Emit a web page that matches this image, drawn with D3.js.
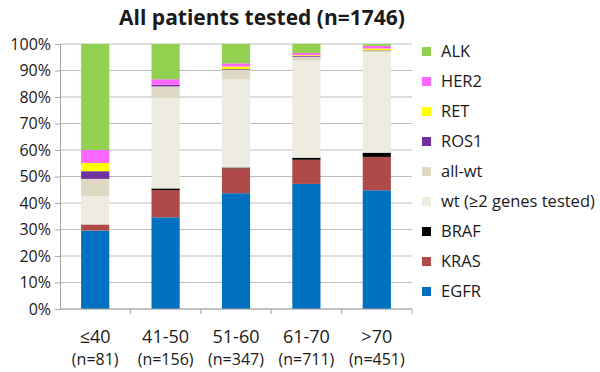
<!DOCTYPE html>
<html>
<head>
<meta charset="utf-8">
<script src="https://cdn.jsdelivr.net/npm/d3@7"></script>
<style>
  body { margin: 0; background: #fff; }
  text { font-family: "Open Sans", sans-serif; fill: #1a1a1a; }
</style>
</head>
<body>
<div id="chart"></div>
<script>
// age groups (x axis)
var groups = ['≤40', '41-50', '51-60', '61-70', '>70'];
var group_n = ['(n=81)', '(n=156)', '(n=347)', '(n=711)', '(n=451)'];

// series, stacked bottom to top
var series = ['EGFR', 'KRAS', 'BRAF', 'wt', 'all-wt', 'ROS1', 'RET', 'HER2', 'ALK'];
var series_labels = ['EGFR', 'KRAS', 'BRAF', 'wt (≥2 genes tested)', 'all-wt', 'ROS1', 'RET', 'HER2', 'ALK'];
var colors = ['#0070C0', '#B04A48', '#000000', '#EEECE1', '#DDD9C4', '#7030A0', '#FFFF00', '#FF66FF', '#92D050'];

// percentages per series, one per age group
var egfr  = [29.6, 34.6, 43.7, 47.2, 44.8];
var kras  = [2.3, 10.3, 9.4, 9.1, 12.6];
var braf  = [0, 0.6, 0.3, 0.8, 1.6];
var wt    = [10.7, 34.0, 33.3, 36.6, 38.0];
var allwt = [6.5, 4.5, 3.5, 1.5, 0.4];
var ros1  = [2.9, 0.6, 0.3, 0.3, 0.2];
var ret   = [3.1, 0, 1.0, 0.3, 0.7];
var her2  = [4.9, 2.1, 1.2, 0.8, 1.0];
var alk   = [40.0, 13.3, 7.3, 3.5, 0.7];

var y_ticks = [0, 10, 20, 30, 40, 50, 60, 70, 80, 90, 100];

var chart_width = 600;
var chart_height = 372;
var margin = {left: 60, right: 188, top: 44, bottom: 63};

var values = [egfr, kras, braf, wt, allwt, ros1, ret, her2, alk];
var table = groups.map(function(g, i) {
  var row = {group: g};
  series.forEach(function(s, j) { row[s] = values[j][i]; });
  return row;
});

var stacked = d3.stack().keys(series)(table);

var svg = d3.select('#chart')
  .append('svg')
  .attr('width', chart_width)
  .attr('height', chart_height);

var x_scale = d3.scaleBand()
  .domain(groups)
  .range([margin.left, chart_width - margin.right])
  .paddingInner(0.6)
  .paddingOuter(0.3);

var y_scale = d3.scaleLinear()
  .domain([0, 100])
  .range([chart_height - margin.bottom, margin.top]);

// gridlines
svg.append('g')
  .selectAll('line')
  .data(y_ticks)
  .enter()
  .append('line')
  .attr('x1', margin.left)
  .attr('x2', chart_width - margin.right)
  .attr('y1', function(d) { return y_scale(d); })
  .attr('y2', function(d) { return y_scale(d); })
  .attr('stroke', '#BDBDBD')
  .attr('stroke-width', 1.2);

// y axis
var y_axis = d3.axisLeft(y_scale)
  .tickValues(y_ticks)
  .tickSize(5)
  .tickPadding(4)
  .tickFormat(function(d) { return d + '%'; });
var gy = svg.append('g')
  .attr('transform', 'translate(' + margin.left + ',0)')
  .call(y_axis);
gy.selectAll('path, line').attr('stroke', '#A6A6A6');
gy.selectAll('text').style('font-size', '16px').style('font-family', '"Open Sans", sans-serif').attr('fill', '#1a1a1a');

// bars
svg.append('g')
  .selectAll('g')
  .data(stacked)
  .enter()
  .append('g')
  .attr('fill', function(d, i) { return colors[i]; })
  .selectAll('rect')
  .data(function(d) { return d; })
  .enter()
  .append('rect')
  .attr('x', function(d) { return x_scale(d.data.group); })
  .attr('width', x_scale.bandwidth())
  .attr('y', function(d) { return y_scale(d[1]); })
  .attr('height', function(d) { return y_scale(d[0]) - y_scale(d[1]); });

// x axis: line and ticks at band boundaries
var x_base = y_scale(0);
var step = x_scale.step();
var bounds = groups.map(function(g) { return x_scale(g) - step * 0.3 + step; });
svg.append('line')
  .attr('x1', margin.left).attr('x2', chart_width - margin.right)
  .attr('y1', x_base).attr('y2', x_base)
  .attr('stroke', '#A6A6A6');
svg.append('g')
  .selectAll('line')
  .data(bounds)
  .enter()
  .append('line')
  .attr('x1', function(d) { return d; })
  .attr('x2', function(d) { return d; })
  .attr('y1', x_base)
  .attr('y2', x_base + 5)
  .attr('stroke', '#A6A6A6');

// x labels
var xl = svg.append('g')
  .selectAll('text')
  .data(groups)
  .enter()
  .append('text')
  .attr('x', function(d) { return x_scale(d) + x_scale.bandwidth() / 2; })
  .attr('text-anchor', 'middle');
xl.append('tspan')
  .attr('y', 343)
  .attr('x', function(d) { return x_scale(d) + x_scale.bandwidth() / 2; })
  .style('font-size', '18px')
  .text(function(d) { return d; });
xl.append('tspan')
  .attr('y', 365)
  .attr('x', function(d) { return x_scale(d) + x_scale.bandwidth() / 2; })
  .style('font-size', '16px')
  .text(function(d, i) { return group_n[i]; });

// legend, top to bottom
var legend_order = series.slice().reverse();
var legend_y = d3.scalePoint()
  .domain(legend_order)
  .range([51, 291]);
var lg = svg.append('g')
  .selectAll('g')
  .data(legend_order)
  .enter()
  .append('g')
  .attr('transform', function(d) { return 'translate(422,' + legend_y(d) + ')'; });
lg.append('rect')
  .attr('x', 0).attr('y', -4)
  .attr('width', 9).attr('height', 9)
  .attr('fill', function(d) { return colors[series.indexOf(d)]; });
lg.append('text')
  .attr('x', 19)
  .attr('y', 6)
  .style('font-size', '16.5px')
  .text(function(d) { return series_labels[series.indexOf(d)]; });

// title
svg.append('text')
  .attr('x', 262)
  .attr('y', 25)
  .attr('text-anchor', 'middle')
  .style('font-size', '21px')
  .style('font-weight', 'bold')
  .text('All patients tested (n=1746)');
</script>
</body>
</html>
